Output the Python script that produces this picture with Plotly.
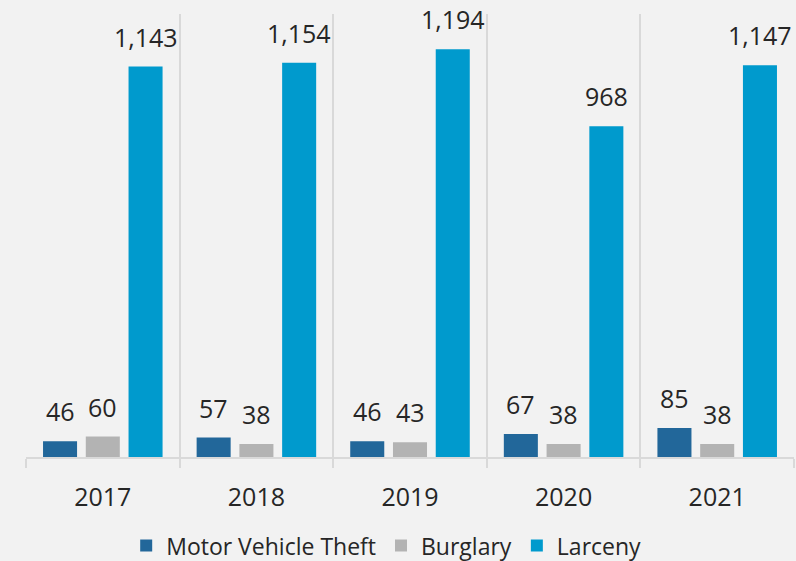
import plotly.graph_objects as go

years = ["2017", "2018", "2019", "2020", "2021"]
motor_vehicle_theft = [46, 57, 46, 67, 85]
burglary = [60, 38, 43, 38, 38]
larceny = [1143, 1154, 1194, 968, 1147]

series = [
    ("Motor Vehicle Theft", motor_vehicle_theft, "#22679A"),
    ("Burglary", burglary, "#B3B3B3"),
    ("Larceny", larceny, "#009ACD"),
]

FONT = "Open Sans"
TXT = "#262626"

fig = go.Figure()
for name, vals, col in series:
    fig.add_trace(go.Bar(x=years, y=vals, name=name, marker_color=col,
                         marker_line_width=0))

# data labels as annotations (offset horizontally per series within group)
cat_px = 153.5
slot = cat_px * (1 - 0.165) / 3
for i, (name, vals, col) in enumerate(series):
    for j, v in enumerate(vals):
        fig.add_annotation(x=j, y=v, text=f"{v:,}", showarrow=False,
                           xshift=(i - 1) * slot, yshift=11, yanchor="bottom",
                           font=dict(family=FONT, size=25, color=TXT))

fig.update_layout(
    width=796, height=561,
    margin=dict(l=26, r=2, t=14, b=104, autoexpand=False),
    paper_bgcolor="#F2F2F2", plot_bgcolor="#F2F2F2",
    barmode="group", bargap=0.165, bargroupgap=0.204,
    showlegend=True,
    legend=dict(orientation="h", x=0.469, xanchor="center", y=-0.2, yanchor="middle",
                font=dict(family=FONT, size=23, color=TXT), bgcolor="rgba(0,0,0,0)"),
    font=dict(family=FONT, color=TXT),
)
fig.update_xaxes(type="category", range=[-0.5, len(years) - 0.5],
                 showgrid=True, gridcolor="#D9D9D9", gridwidth=1.5,
                 tickson="boundaries", ticks="outside", ticklen=9, tickcolor="#D9D9D9",
                 tickwidth=1.5, tickangle=0, ticklabelstandoff=17,
                 showline=True, linecolor="#D9D9D9", linewidth=1.5,
                 tickfont=dict(family=FONT, size=25, color=TXT))
fig.update_yaxes(range=[0, 1297], visible=False, showgrid=False, zeroline=False)

fig.write_html("out.html", config={"displayModeBar": False},
               post_script="document.body.style.margin='0';document.body.style.background='#F2F2F2';")
